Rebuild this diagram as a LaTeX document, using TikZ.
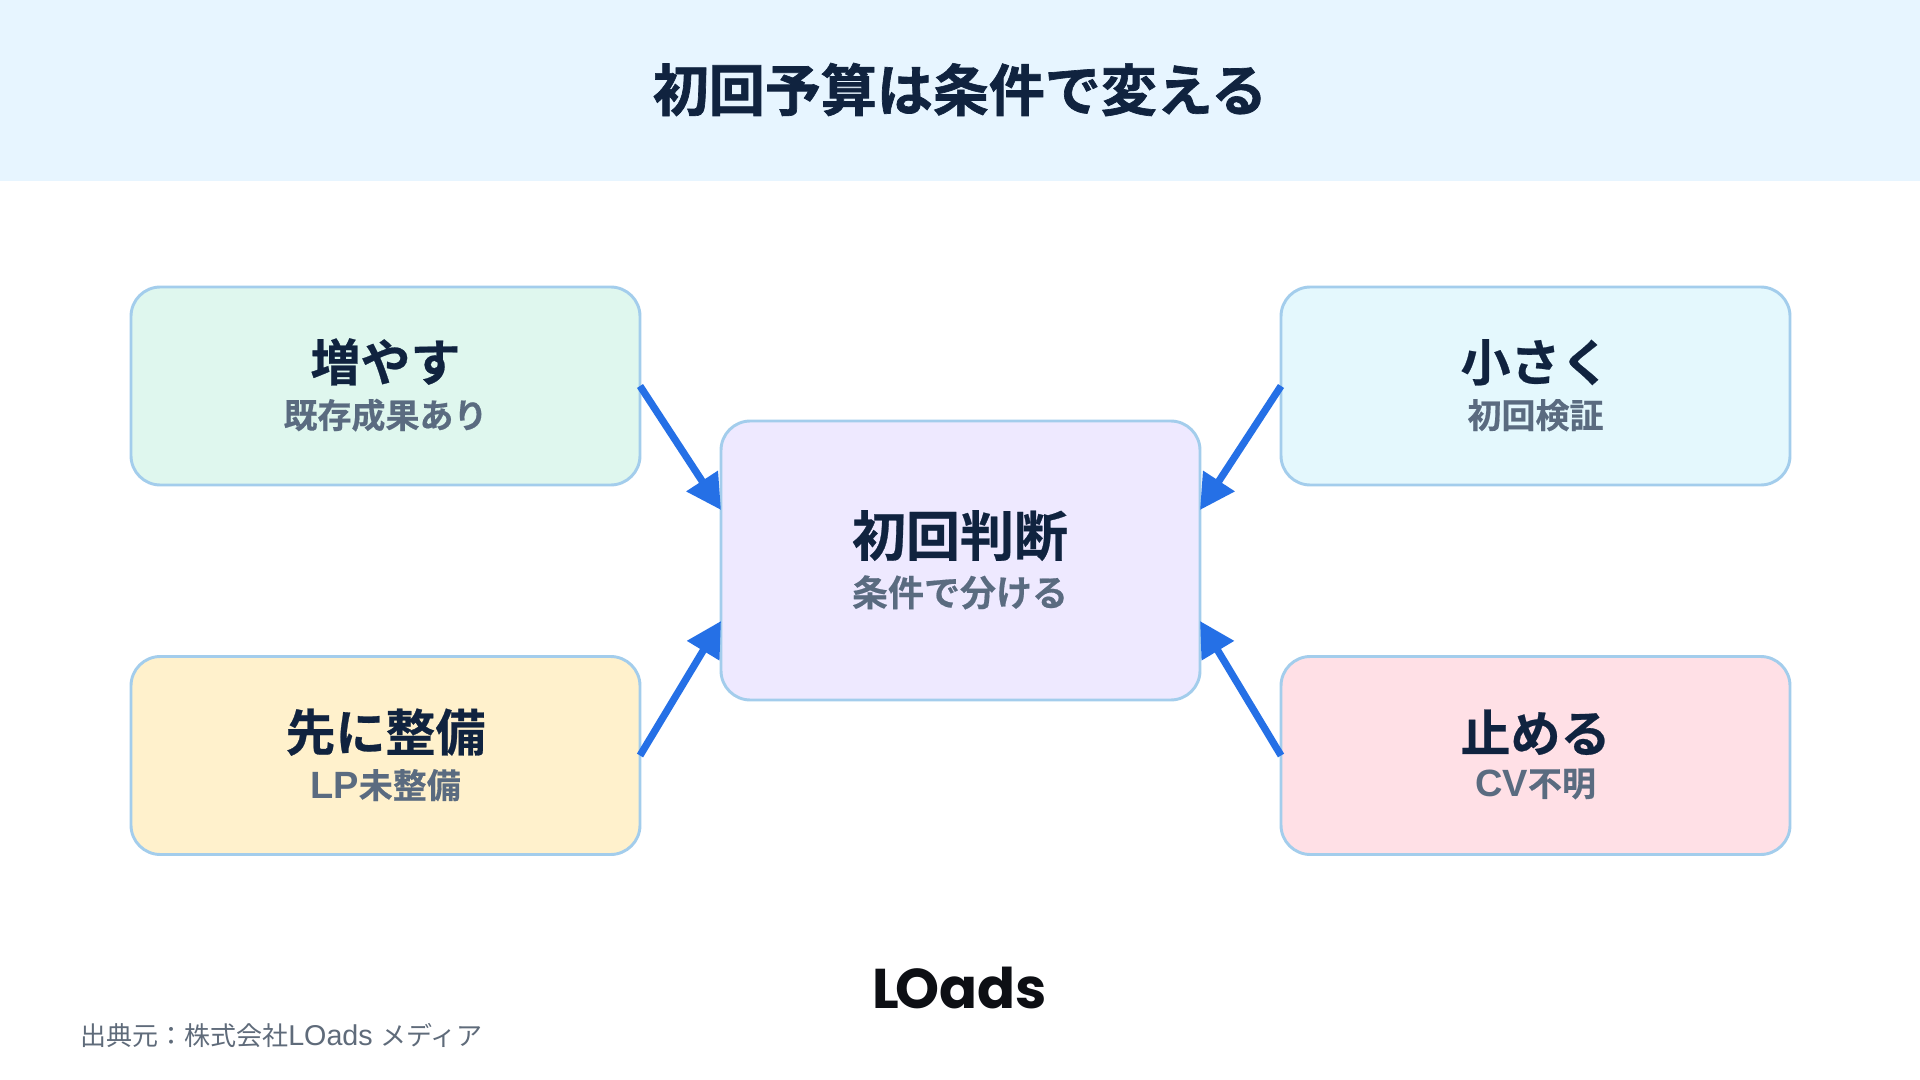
\documentclass[tikz,border=0pt]{standalone}
\usepackage{fontspec}
\setmainfont{Noto Sans CJK JP}[BoldFont=Noto Sans CJK JP Bold]
\newfontfamily\heavyfont{Noto Sans CJK JP Bold}[FakeBold=1.2]
\newfontfamily\midfont{Noto Sans CJK JP Bold}[FakeBold=0.5]
\newfontfamily\latinbold{Liberation Sans Bold}
\newfontfamily\latinreg{Liberation Sans}
\newfontfamily\logofont{Poppins}[BoldFont=Poppins Bold]
\usetikzlibrary{arrows.meta}
\definecolor{headbg}{HTML}{E7F5FF}
\definecolor{ink}{HTML}{10233F}
\definecolor{subink}{HTML}{5A6B80}
\definecolor{edge}{HTML}{A3CDEC}
\definecolor{arrowblue}{HTML}{2570E6}
\definecolor{footgrey}{HTML}{5F6B7A}
\definecolor{logoink}{HTML}{0D0F14}
\definecolor{fgreen}{HTML}{DFF7EE}
\definecolor{fcyan}{HTML}{E4F8FD}
\definecolor{fyellow}{HTML}{FFF1CC}
\definecolor{fpink}{HTML}{FFE0E6}
\definecolor{fpurple}{HTML}{EEE9FF}
\tikzset{
  x=0.75pt,y=-0.75pt,
  box/.style={draw=edge,line width=2.2pt,rounded corners=22pt,inner sep=0pt,outer sep=0pt,
    minimum width=381.75pt,minimum height=148.5pt},
  centrebox/.style={box,minimum width=359.25pt,minimum height=209.25pt},
  txt/.style={inner sep=0pt,outer sep=0pt,anchor=base},
  head/.style={txt,text=ink,font=\midfont\fontsize{37.5pt}{37.5pt}\selectfont},
  sub/.style={txt,text=subink,font=\midfont\fontsize{25.5pt}{25.5pt}\selectfont},
  chead/.style={txt,text=ink,font=\midfont\fontsize{40.5pt}{40.5pt}\selectfont},
  csub/.style={txt,text=subink,font=\midfont\fontsize{27pt}{27pt}\selectfont},
  link/.style={draw=arrowblue,line width=5.4pt,-{Triangle[length=26pt,width=27pt,sep=0pt]},arrowblue},
}
\begin{document}
\begin{tikzpicture}
\useasboundingbox (0,0) rectangle (1920,1080);
\fill[white] (0,0) rectangle (1920,1080);
\fill[headbg] (0,0) rectangle (1920,181);
\node[txt,text=ink,font=\heavyfont\fontsize{42pt}{42pt}\selectfont] (title) at (960,111) {初回予算は条件で変える};
\node[box,fill=fgreen] (a) at (385.5,386) {};
\node[box,fill=fcyan] (b) at (1535.5,386) {};
\node[box,fill=fyellow] (d) at (385.5,755.5) {};
\node[box,fill=fpink] (e) at (1535.5,755.5) {};
\node[centrebox,fill=fpurple] (c) at (960.5,560.5) {};
\coordinate (cul) at (721,510);
\coordinate (cur) at (1200,510);
\coordinate (cll) at (721,621);
\coordinate (clr) at (1200,621);
\node[head] (at) at (385.5,381) {増やす};
\node[sub] (as) at (385.5,428) {既存成果あり};
\node[head] (bt) at (1535.5,381) {小さく};
\node[sub] (bs) at (1535.5,428) {初回検証};
\node[head] (dt) at (385.5,751) {先に整備};
\node[sub] (ds) at (385.5,798) {{\latinbold\fontsize{28.5pt}{28.5pt}\selectfont LP}未整備};
\node[head] (et) at (1535.5,752) {止める};
\node[sub] (es) at (1535.5,796) {{\latinbold\fontsize{28.5pt}{28.5pt}\selectfont CV}不明};
\node[chead] (ct) at (960,556) {初回判断};
\node[csub] (cs) at (960,606) {条件で分ける};
\draw[link] (a.east) -- (cul);
\draw[link] (b.west) -- (cur);
\draw[link] (d.east) -- (cll);
\draw[link] (e.west) -- (clr);
\node[txt,text=logoink,font=\logofont\bfseries\fontsize{42pt}{42pt}\selectfont] (logo) at (960,1008) {L\kern-3ptOads};
\node[inner sep=0pt,anchor=base west,text=footgrey,font=\fontsize{19.5pt}{19.5pt}\selectfont] (src) at (80,1045) {出典元：株式会社{\latinreg\fontsize{21.5pt}{21.5pt}\selectfont LOads}\kern6ptメディア};
\end{tikzpicture}
\end{document}
